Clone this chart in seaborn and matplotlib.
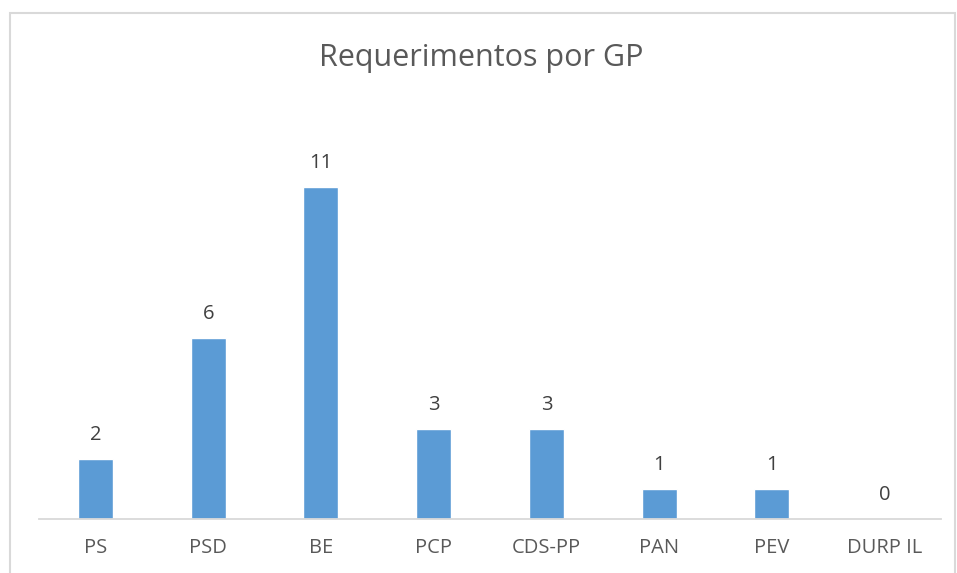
import matplotlib
matplotlib.use('Agg')
import matplotlib.pyplot as plt
import seaborn as sns
from matplotlib.patches import Rectangle

partidos = ['PS', 'PSD', 'BE', 'PCP', 'CDS-PP', 'PAN', 'PEV', 'DURP IL']
requerimentos = [2, 6, 11, 3, 3, 1, 1, 0]

sns.set_style('white')
plt.rcParams['font.family'] = ['Open Sans', 'DejaVu Sans']

cinza = '#595959'
fig = plt.figure(figsize=(9.57, 5.73), dpi=100)
ax = fig.add_axes([39 / 957, 54 / 573, 902 / 957, 362 / 573])

sns.barplot(x=partidos, y=requerimentos, color='#5B9BD5', width=0.31,
            saturation=1, ax=ax)
ax.set_ylim(0, 12)
ax.set_xlim(-0.5, len(partidos) - 0.5)
ax.bar_label(ax.containers[0], padding=10, fontsize=14.5, color='#404040')

sns.despine(ax=ax, left=True, top=True, right=True)
ax.spines['bottom'].set_color('#D9D9D9')
ax.spines['bottom'].set_linewidth(1.3)
ax.set_yticks([])
ax.tick_params(axis='x', length=0, pad=14, labelsize=14.5, labelcolor=cinza)
ax.set_xlabel('')
ax.set_ylabel('')

fig.text(481 / 957, 1 - 58 / 573, 'Requerimentos por GP', ha='center', va='center',
         fontsize=22, color=cinza)

# moldura do gráfico
fig.patches.append(Rectangle((10 / 957, -0.05), 945 / 957, 1.05 - 13 / 573,
                             transform=fig.transFigure, fill=False,
                             edgecolor='#D9D9D9', linewidth=1.5))

fig.savefig('out.png', dpi=100)
